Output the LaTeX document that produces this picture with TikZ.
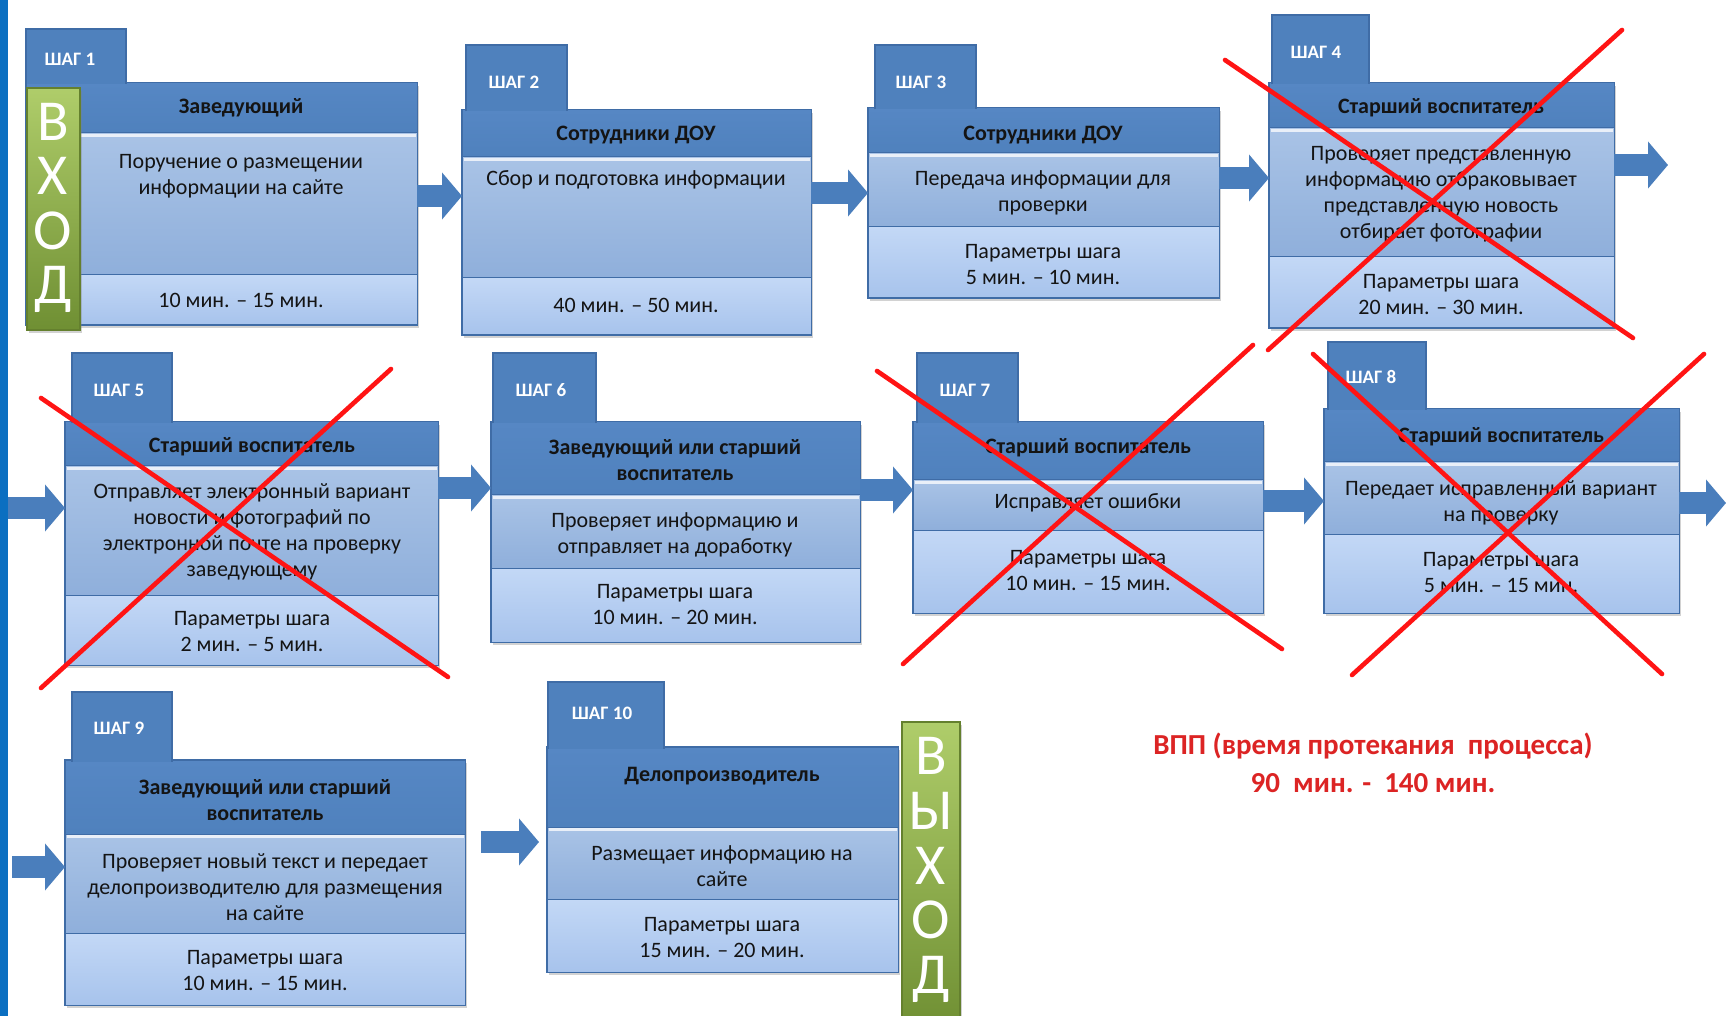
\documentclass[tikz,border=0pt]{standalone}
\usepackage{fontspec}
\setmainfont{Carlito}
\usetikzlibrary{fit,shadows,arrows.meta}
\definecolor{hdr}{HTML}{4F81BD}
\definecolor{hdrT}{HTML}{5687C4}
\definecolor{bord}{HTML}{3F6CA6}
\definecolor{midT}{HTML}{A9C3E6}
\definecolor{midB}{HTML}{8FAFDB}
\definecolor{botT}{HTML}{C3D8F6}
\definecolor{botB}{HTML}{A7C3EC}
\definecolor{arr}{HTML}{4A7EBC}
\definecolor{xred}{HTML}{FF1414}
\definecolor{gT}{HTML}{AFCD6A}
\definecolor{gB}{HTML}{6F8F33}
\definecolor{gBord}{HTML}{64802E}
\definecolor{lbar}{HTML}{0B6FC1}
\definecolor{vppred}{HTML}{DC2424}
\definecolor{txt}{HTML}{141414}
\tikzset{
  sec/.style={inner sep=0pt, outer sep=0pt, draw=bord, line width=0.5pt},
  stepbody/.style={sec, fill=hdr, line width=0.7pt,
    drop shadow={shadow xshift=1.2pt, shadow yshift=-1.6pt, opacity=0.35}},
  hdrbox/.style={sec, top color=hdrT, bottom color=hdr},
  midbox/.style={sec, top color=midT, bottom color=midB},
  botbox/.style={sec, top color=botT, bottom color=botB},
  tabbox/.style={inner sep=0pt, outer sep=0pt, fill=hdr},
  edge/.style={draw=bord, line width=0.7pt},
  hilite/.style={draw=white, draw opacity=0.75, line width=1.3pt},
  tabtxt/.style={text=white, font=\bfseries\fontsize{9.5}{10}\selectfont, inner sep=0pt},
  hdrtxt/.style={text=txt, font=\bfseries\fontsize{11}{13}\selectfont, align=center, inner sep=0pt},
  bodytxt/.style={text=txt, font=\fontsize{11}{13}\selectfont, align=center, inner sep=0pt},
  bigarrow/.style={draw=arr, line width=11pt, -{Triangle[length=10pt,width=23pt]}},
  cross/.style={draw=xred, line width=2.3pt, line cap=round},
  exitbar/.style={inner sep=0pt, top color=gT, bottom color=gB, draw=gBord, line width=0.6pt,
    drop shadow={shadow xshift=1.2pt, shadow yshift=-1.6pt, opacity=0.35}},
  bigletter/.style={text=white, font=\fontsize{29}{27.3}\selectfont, align=center, inner sep=0pt},
  vpp/.style={text=vppred, font=\bfseries\fontsize{14.5}{19}\selectfont, align=center, inner sep=0pt}
}
\begin{document}
\begin{tikzpicture}[x=0.5pt,y=-0.5pt]
\useasboundingbox (0,0) rectangle (1726,1016);
\fill[white] (0,0) rectangle (1726,1016);

\foreach \n/\tx/\txx/\ty/\xa/\xb/\ya/\yb/\yc/\yd in {
 1/26/126/29/26/417/83/133/275/325,
 2/466/567/45/462/811/110/157/278/335,
 3/875/976/45/868/1219/108/153/227/298,
 4/1272/1369/15/1269/1614/83/128/257/328,
 5/72/172/353/65/438/422/466/595/665,
 6/493/596/353/491/860/422/495/568/642,
 7/917/1018/353/913/1263/422/480/530/613,
 8/1328/1426/342/1324/1679/409/462/534/613,
 9/72/172/692/65/465/760/834/933/1005,
 10/548/664/682/547/898/747/827/899/972}
{
 \node[stepbody, fit={(\xa,\ya) (\xb,\yd)}] (s\n) {};
 \node[hdrbox, fit={(\xa,\ya) (\xb,\yb)}] (h\n) {};
 \node[midbox, fit={(\xa,\yb) (\xb,\yc)}] (m\n) {};
 \node[botbox, fit={(\xa,\yc) (\xb,\yd)}] (b\n) {};
 \node[tabbox, fit={(\tx,\ty) (\txx,\ya+1.5)}] (t\n) {};
 \draw[edge] (t\n.south west) -- (t\n.north west) -- (t\n.north east) -- (t\n.south east);
 \draw[hilite] (\xa+1.5,\yb+2.5) -- (\xb-1.5,\yb+2.5);
}

% step labels
\node[tabtxt] (tl1) at (70,59) {ШАГ 1};
\node[tabtxt] (tl2) at (514,82) {ШАГ 2};
\node[tabtxt] (tl3) at (921,82) {ШАГ 3};
\node[tabtxt] (tl4) at (1316,52) {ШАГ 4};
\node[tabtxt] (tl5) at (119,390) {ШАГ 5};
\node[tabtxt] (tl6) at (541,390) {ШАГ 6};
\node[tabtxt] (tl7) at (965,390) {ШАГ 7};
\node[tabtxt] (tl8) at (1371,377) {ШАГ 8};
\node[tabtxt] (tl9) at (119,728) {ШАГ 9};
\node[tabtxt] (tl10) at (602,713) {ШАГ 10};

% headers
\node[hdrtxt] (ht1) at (241,108) {Заведующий};
\node[hdrtxt] (ht2) at (636,135) {Сотрудники ДОУ};
\node[hdrtxt] (ht3) at (1043,135) {Сотрудники ДОУ};
\node[hdrtxt] (ht4) at (1441,108) {Старший воспитатель};
\node[hdrtxt] (ht5) at (252,447) {Старший воспитатель};
\node[hdrtxt] (ht6) at (675,460) {Заведующий или старший\\воспитатель};
\node[hdrtxt] (ht7) at (1088,448) {Старший воспитатель};
\node[hdrtxt] (ht8) at (1501,437) {Старший воспитатель};
\node[hdrtxt] (ht9) at (265,800) {Заведующий или старший\\воспитатель};
\node[hdrtxt] (ht10) at (722,776) {Делопроизводитель};

% middle texts
\node[bodytxt] (mt1) at (241,176) {Поручение о размещении\\информации на сайте};
\node[bodytxt] (mt2) at (636,180) {Сбор и подготовка информации};
\node[bodytxt] (mt3) at (1043,193) {Передача информации для\\проверки};
\node[bodytxt] (mt4) at (1441,194) {Проверяет представленную\\информацию отбраковывает\\представленную новость\\отбирает фотографии};
\node[bodytxt] (mt5) at (252,532) {Отправляет электронный вариант\\новости и фотографий по\\электронной почте на проверку\\заведующему};
\node[bodytxt] (mt6) at (675,535) {Проверяет информацию и\\отправляет на доработку};
\node[bodytxt] (mt7) at (1088,503) {Исправляет ошибки};
\node[bodytxt] (mt8) at (1501,503) {Передает исправленный вариант\\на проверку};
\node[bodytxt] (mt9) at (265,887) {Проверяет новый текст и передает\\делопроизводителю для размещения\\на сайте};
\node[bodytxt] (mt10) at (722,866) {Размещает информацию на\\сайте};

% bottom texts
\node[bodytxt] (bt1) at (241,300) {10 мин. – 15 мин.};
\node[bodytxt] (bt2) at (636,305) {40 мин. – 50 мин.};
\node[bodytxt] (bt3) at (1043,265) {Параметры шага\\5 мин. – 10 мин.};
\node[bodytxt] (bt4) at (1441,295) {Параметры шага\\20 мин. – 30 мин.};
\node[bodytxt] (bt5) at (252,632) {Параметры шага\\2 мин. – 5 мин.};
\node[bodytxt] (bt6) at (675,605) {Параметры шага\\10 мин. – 20 мин.};
\node[bodytxt] (bt7) at (1088,571) {Параметры шага\\10 мин. – 15 мин.};
\node[bodytxt] (bt8) at (1501,573) {Параметры шага\\5 мин. – 15 мин.};
\node[bodytxt] (bt9) at (265,971) {Параметры шага\\10 мин. – 15 мин.};
\node[bodytxt] (bt10) at (722,938) {Параметры шага\\15 мин. – 20 мин.};

% entry / exit bars
\node[exitbar, fit={(27,88) (80,330)}] (vhod) {};
\node[bigletter] (vhodtxt) at (53,208) {В\\Х\\О\\Д};
\node[exitbar, fit={(902,722) (960,1030)}] (vyhod) {};
\node[bigletter] (vyhodtxt) at (931,870) {В\\Ы\\Х\\О\\Д};

% arrows
\coordinate (out4) at (1668,165);
\coordinate (in5) at (7,508);
\coordinate (out8) at (1726,503);
\coordinate (in9) at (12,867);
\draw[bigarrow] (s1.east |- 0,196) -- (s2.west |- 0,196);
\draw[bigarrow] (s2.east |- 0,193) -- (s3.west |- 0,193);
\draw[bigarrow] (s3.east |- 0,178) -- (s4.west |- 0,178);
\draw[bigarrow] (s4.east |- out4) -- (out4);
\draw[bigarrow] (in5) -- (s5.west |- in5);
\draw[bigarrow] (s5.east |- 0,488) -- (s6.west |- 0,488);
\draw[bigarrow] (s6.east |- 0,490) -- (s7.west |- 0,490);
\draw[bigarrow] (s7.east |- 0,501) -- (s8.west |- 0,501);
\draw[bigarrow] (s8.east |- out8) -- (out8);
\draw[bigarrow] (in9) -- (s9.west |- in9);
\draw[bigarrow, shorten <=8pt, shorten >=4pt] (s9.east |- 0,842) -- (s10.west |- 0,842);

% total time
\node[vpp] (vppt) at (1373,763) {ВПП (время протекания\ \ процесса)\\90\ \ мин. -\ \ 140 мин.};

% red crosses
\draw[cross] (1225,60) -- (1633,338);
\draw[cross] (1622,30) -- (1268,350);
\draw[cross] (41,398) -- (448,677);
\draw[cross] (391,369) -- (41,688);
\draw[cross] (877,371) -- (1282,649);
\draw[cross] (1253,345) -- (903,664);
\draw[cross] (1313,354) -- (1662,674);
\draw[cross] (1704,354) -- (1352,675);

% left blue bar
\fill[lbar] (0,0) rectangle (8,1016);
\end{tikzpicture}
\end{document}
